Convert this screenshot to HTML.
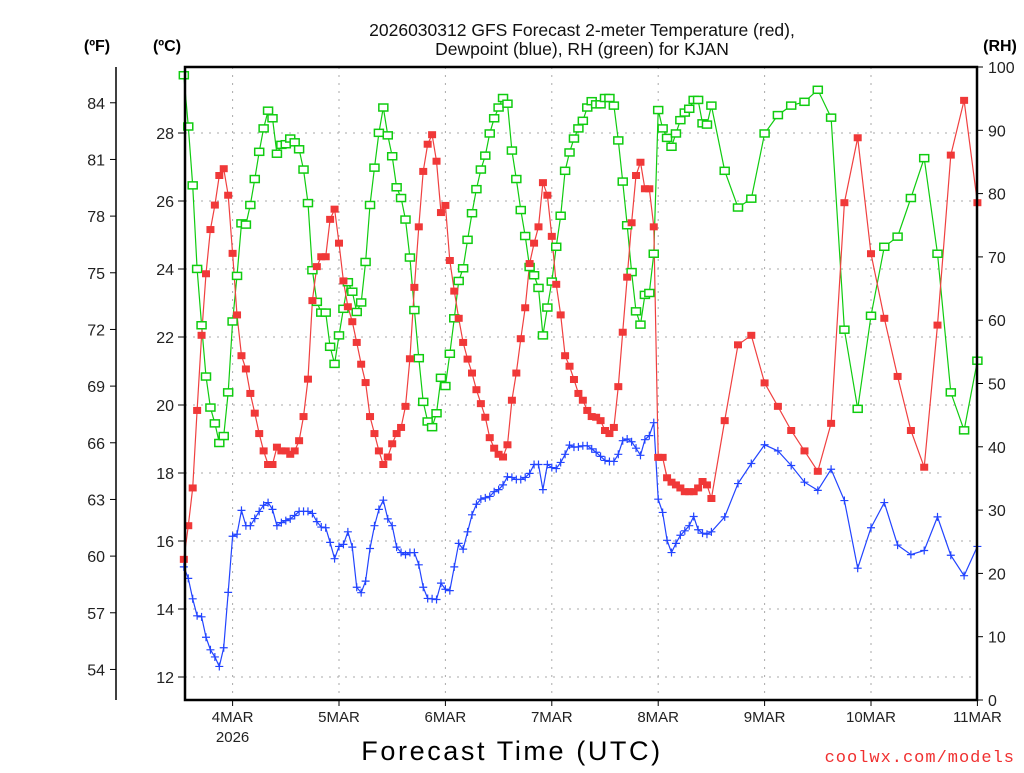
<!DOCTYPE html>
<html><head><meta charset="utf-8">
<style>
html,body{margin:0;padding:0;background:#fff;}
body{width:1024px;height:768px;overflow:hidden;font-family:"Liberation Sans",sans-serif;}
</style></head>
<body>
<svg id="chart" width="1024" height="768" xmlns="http://www.w3.org/2000/svg" font-family="Liberation Sans, sans-serif">
<text x="582" y="36" font-size="17.5" text-anchor="middle" fill="#111">2026030312 GFS Forecast 2-meter Temperature (red),</text>
<text x="582" y="55" font-size="17.5" text-anchor="middle" fill="#111">Dewpoint (blue), RH (green) for KJAN</text>
<text x="97" y="51" font-size="16" font-weight="bold" text-anchor="middle">(ºF)</text>
<text x="167" y="51" font-size="16" font-weight="bold" text-anchor="middle">(ºC)</text>
<text x="1000" y="51" font-size="16" font-weight="bold" text-anchor="middle">(RH)</text>
<text x="512" y="760" font-size="27" text-anchor="middle" letter-spacing="2.6">Forecast Time (UTC)</text>
<text x="1015" y="762" font-size="17" text-anchor="end" fill="#f03030" letter-spacing="1" font-family="Liberation Mono, monospace">coolwx.com/models</text>
<g id="grid"></g>
<g id="series"></g>
<g id="axes"></g>
</svg>
<script>
// hourly values h=1..119, then 3-hourly 120..180
const tempC = [15.46,16.45,17.56,19.84,22.05,23.86,25.16,25.88,26.75,26.95,26.17,24.46,22.65,21.45,21.06,20.34,19.76,19.16,18.65,18.25,18.25,18.76,18.65,18.65,18.55,18.65,18.95,19.66,20.76,23.07,24.07,24.36,24.36,25.46,25.76,24.76,23.65,22.89,22.45,21.84,21.2,20.66,19.66,19.16,18.65,18.25,18.47,18.86,19.16,19.34,19.96,21.36,23.46,25.24,26.87,27.67,27.95,27.17,25.66,25.87,24.25,
23.35,22.55,21.84,21.35,20.94,20.45,20.04,19.64,19.04,18.73,18.55,18.47,18.83,20.14,20.94,21.95,22.86,24.16,24.76,25.24,26.54,26.17,24.96,23.55,22.65,21.45,21.14,20.75,20.34,20.14,19.84,19.66,19.64,19.54,19.25,19.16,19.34,20.54,22.14,23.76,25.36,26.75,27.14,26.36,26.36,25.24,18.46,18.46,17.86,17.73,17.65,17.56,17.45,17.45,17.45,17.56,17.75,17.65,
17.25,19.54,21.77,22.05,20.65,19.96,19.25,18.65,18.05,19.46,25.95,27.86,24.45,22.55,20.84,19.25,18.17,22.35,27.35,28.96,25.95];
const dewC = [15.24,14.90,14.30,13.80,13.77,13.17,12.80,12.59,12.31,12.86,14.49,16.14,16.20,16.90,16.45,16.45,16.66,16.87,17.05,17.13,16.93,16.45,16.54,16.60,16.65,16.75,16.87,16.87,16.87,16.81,16.57,16.41,16.39,15.96,15.48,15.84,15.90,16.27,15.82,14.64,14.48,14.82,15.78,16.45,16.93,17.20,16.65,16.45,15.82,15.66,15.60,15.66,15.66,15.30,14.64,14.31,14.30,14.28,14.76,14.58,14.54,
15.24,15.93,15.76,16.27,16.77,17.08,17.23,17.27,17.31,17.45,17.51,17.65,17.89,17.87,17.81,17.81,17.87,17.99,18.25,18.25,17.51,18.25,18.16,18.13,18.31,18.55,18.82,18.76,18.77,18.80,18.80,18.71,18.61,18.49,18.37,18.34,18.34,18.55,18.95,19.00,18.92,18.73,18.52,18.98,19.10,19.48,17.23,16.84,16.02,15.66,15.93,16.17,16.30,16.45,16.72,16.33,16.23,16.20,
16.27,16.71,17.69,18.28,18.83,18.65,18.22,17.73,17.49,18.11,17.19,15.20,16.39,17.13,15.88,15.60,15.72,16.71,15.58,14.98,15.84];
const rh = [98.7,90.6,81.3,68.1,59.2,51.1,46.2,43.7,40.6,41.7,48.6,59.8,67.0,75.3,75.1,78.2,82.3,86.6,90.3,93.1,91.9,86.3,87.7,87.8,88.7,88.1,87.0,83.8,78.5,67.9,62.9,61.2,61.2,55.8,53.1,57.6,61.8,66.0,64.5,61.3,62.8,69.2,78.2,84.1,89.6,93.6,89.2,85.9,81.0,79.3,75.9,69.9,61.6,54.0,47.1,44.0,43.1,45.3,50.9,49.6,54.7,
60.3,66.2,68.2,72.7,76.9,80.7,83.8,86.0,89.5,91.9,93.6,95.1,94.2,86.8,82.3,77.4,73.3,68.4,67.1,65.1,57.6,62.0,66.1,71.6,76.5,83.6,86.5,88.7,90.3,91.5,93.6,94.6,94.1,94.1,95.1,95.1,93.9,88.4,81.9,75.0,67.6,61.4,59.3,64.0,64.3,70.5,93.2,90.3,88.8,87.4,89.5,91.6,92.8,93.4,94.8,94.8,91.1,90.9,
93.9,83.6,77.8,79.2,89.5,92.4,93.9,94.5,96.4,92.0,58.5,46.0,60.7,71.6,73.2,79.3,85.6,70.5,48.6,42.6,53.6];
const dayLabels = ["4MAR","5MAR","6MAR","7MAR","8MAR","9MAR","10MAR","11MAR"];
const celsiusTicks = [12,14,16,18,20,22,24,26,28];
const fahrenheitTicks = [54,57,60,63,66,69,72,75,78,81,84];
const rhTicks = [0,10,20,30,40,50,60,70,80,90,100];

const hours = [];
for (let h = 1; h <= 119; h++) hours.push(h);
for (let h = 120; h <= 180; h += 3) hours.push(h);

const L = 185, R = 977, T = 67, B = 700;
const xH = h => 179.4 + h * (106.4 / 24);
const yC = c => 677 - (c - 12) * 34;
const yF = f => yC((f - 32) * 5 / 9);
const yRH = r => 700 - r * 6.33;
const NS = "http://www.w3.org/2000/svg";
function mk(tag, attrs, parent) {
  const e = document.createElementNS(NS, tag);
  for (const k in attrs) e.setAttribute(k, attrs[k]);
  parent.appendChild(e);
  return e;
}
const grid = document.getElementById('grid');
const axes = document.getElementById('axes');
const series = document.getElementById('series');

celsiusTicks.forEach(c => {
  const g = mk('line', {x1: L, x2: R, y1: yC(c), y2: yC(c), stroke: '#aaa', 'stroke-width': 1, 'stroke-dasharray': '2,6'}, grid);
  
  
});
dayLabels.forEach((d, i) => {
  const x = xH(12 + 24 * i);
  const g = mk('line', {x1: x, x2: x, y1: T, y2: B, stroke: '#aaa', 'stroke-width': 1, 'stroke-dasharray': '2,6'}, grid);
  
  
  const tk = mk('line', {x1: x, x2: x, y1: B, y2: B + 6, stroke: '#000', 'stroke-width': 1}, axes);
  
  
  const t = mk('text', {x: x, y: 722, 'font-size': 15, 'text-anchor': 'middle', fill: '#222'}, axes);
  t.textContent = d;
  
  
});
const yr = mk('text', {x: xH(12), y: 742, 'font-size': 15, 'text-anchor': 'middle', fill: '#222'}, axes);
yr.textContent = '2026';



const fr = mk('rect', {x: L, y: T, width: R - L, height: B - T, fill: 'none', stroke: '#000', 'stroke-width': 2.5}, axes);


const fa = mk('line', {x1: 116, x2: 116, y1: T, y2: B, stroke: '#000', 'stroke-width': 1.5}, axes);


fahrenheitTicks.forEach(f => {
  const y = yF(f);
  const tk = mk('line', {x1: 110, x2: 116, y1: y, y2: y, stroke: '#000'}, axes);
  
  
  const t = mk('text', {x: 105, y: y + 6, 'font-size': 16, 'text-anchor': 'end', fill: '#222'}, axes);
  t.textContent = f;
  
  
});
celsiusTicks.forEach(c => {
  const y = yC(c);
  const tk = mk('line', {x1: 178, x2: 185, y1: y, y2: y, stroke: '#000'}, axes);
  
  
  const t = mk('text', {x: 174, y: y + 6, 'font-size': 16, 'text-anchor': 'end', fill: '#222'}, axes);
  t.textContent = c;
  
  
});
rhTicks.forEach(r => {
  const y = yRH(r);
  const tk = mk('line', {x1: 977, x2: 983, y1: y, y2: y, stroke: '#000'}, axes);
  
  
  const t = mk('text', {x: 988, y: y + 6, 'font-size': 16, 'text-anchor': 'start', fill: '#222'}, axes);
  t.textContent = r;
  
  
});

function drawLine(vals, yfn, color, name) {
  const pts = vals.map((v, i) => xH(hours[i]).toFixed(1) + ',' + yfn(v).toFixed(1)).join(' ');
  const p = mk('polyline', {points: pts, fill: 'none', stroke: color, 'stroke-width': 1.2}, series);
  
  
}
drawLine(rh, yRH, '#10cc10', 'rh-line');
drawLine(dewC, yC, '#2244ff', 'dewpoint-line');
drawLine(tempC, yC, '#f04040', 'temperature-line');

rh.forEach((v, i) => {
  const m = mk('rect', {x: xH(hours[i]) - 4.5, y: yRH(v) - 3.5, width: 9, height: 7, fill: '#fff', stroke: '#10cc10', 'stroke-width': 1.5}, series);
  
  
});
dewC.forEach((v, i) => {
  const x = xH(hours[i]), y = yC(v);
  const m = mk('path', {d: `M${x-4},${y}H${x+4}M${x},${y-4}V${y+4}`, stroke: '#2244ff', 'stroke-width': 1.2, fill: 'none'}, series);
  
  
});
tempC.forEach((v, i) => {
  const m = mk('rect', {x: xH(hours[i]) - 4, y: yC(v) - 3.5, width: 8, height: 7, fill: '#f03838'}, series);
  
  
});
</script>
</body></html>
